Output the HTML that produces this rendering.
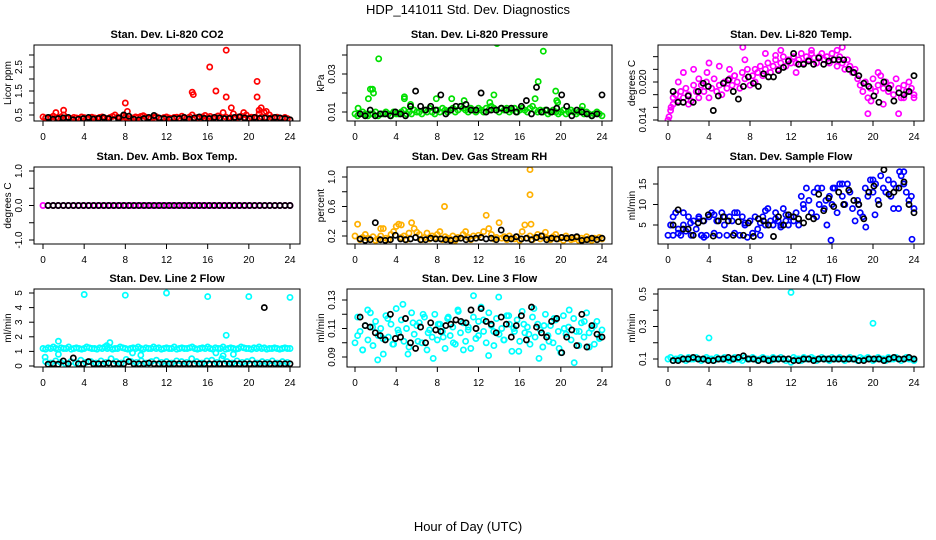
<!DOCTYPE html>
<html><head><meta charset="utf-8"><style>
body{margin:0;background:#fff;}
svg{display:block;font-family:"Liberation Sans",sans-serif;}
</style></head><body>
<svg id="chart" width="936" height="540" viewBox="0 0 936 540" xmlns="http://www.w3.org/2000/svg">
<rect width="936" height="540" fill="#fff"/>
<text x="468" y="14" text-anchor="middle" font-size="13">HDP_141011  Std. Dev. Diagnostics</text>
<text x="468" y="531" text-anchor="middle" font-size="13">Hour of Day (UTC)</text>
</svg>
<script>
// ---- data ----
const xTicks = [0,4,8,12,16,20,24];
const titles = ["Stan. Dev. Li-820 CO2","Stan. Dev. Li-820 Pressure","Stan. Dev. Li-820 Temp.","Stan. Dev. Amb. Box Temp.","Stan. Dev. Gas Stream RH","Stan. Dev. Sample Flow","Stan. Dev. Line 2 Flow","Stan. Dev. Line 3 Flow","Stan. Dev. Line 4 (LT) Flow"];
const yTitles = ["Licor ppm","kPa","degrees C","degrees C","percent","ml/min","ml/min","ml/min","ml/min"];
const colors = ["#ff0000","#00e000","#ff00ff","#ff00ff","#ffb000","#0000ff","#00ffff","#00ffff","#00ffff"];

const co2Base = [0.42,0.38,0.35,0.40,0.45,0.38,0.36,0.42,0.50,0.40,0.37,0.35,0.40,0.38,0.36,0.42,0.39,0.35,0.37,0.41,0.38,0.36,0.40,0.42,0.37,0.35,0.39,0.44,0.50,0.41,0.38,0.45,0.40,0.36,0.35,0.38,0.42,0.40,0.44,0.47,0.41,0.38,0.36,0.40,0.43,0.37,0.35,0.39,0.42,0.38,0.36,0.40,0.41,0.37,0.45,0.39,0.35,0.42,0.50,0.38,0.40,0.36,0.42,0.48,0.39,0.44,0.37,0.41,0.46,0.38,0.60,0.42,0.36,0.40,0.55,0.38,0.42,0.45,0.39,0.50,0.37,0.41,0.40,0.38,0.55,0.42,0.60,0.39,0.50,0.40,0.37,0.41,0.38,0.36,0.40,0.35,0.30];
const co2ExtraT = [1.25,2.0,8.0,8.2,14.5,14.6,16.2,16.8,17.8,17.8,18.3,19.5,20.8,20.8,21.0,21.2,21.7];
const co2ExtraV = [0.6,0.7,1.0,0.65,1.45,1.35,2.5,1.5,3.2,1.25,0.8,0.6,1.9,1.25,0.7,0.8,0.65];
const co2Black = [0.40,0.32,0.35,0.38,0.40,0.30,0.32,0.35,0.40,0.33,0.36,0.40,0.35,0.30,0.38,0.50,0.45,0.32,0.30,0.35,0.40,0.48,0.38,0.35,0.32,0.36,0.35,0.40,0.33,0.38,0.42,0.36,0.35,0.40,0.38,0.35,0.36,0.40,0.42,0.38,0.35,0.40,0.36,0.38,0.35,0.40,0.38,0.35,0.30];

const presBase = [.009,.008,.009,.010,.009,.008,.009,.009,.010,.008,.009,.009,.010,.009,.008,.010,.009,.009,.010,.011,.009,.010,.009,.011,.010,.010,.009,.011,.010,.012,.010,.009,.011,.010,.012,.011,.010,.011,.012,.010,.011,.013,.012,.011,.010,.012,.011,.010,.012,.011,.010,.012,.011,.013,.012,.011,.010,.012,.011,.012,.010,.011,.012,.010,.011,.012,.011,.010,.012,.013,.011,.010,.011,.010,.011,.009,.010,.011,.010,.009,.010,.011,.009,.010,.011,.010,.009,.010,.011,.009,.010,.009,.008,.009,.010,.009,.008];
const presExtraT = [0.3,1.3,1.5,1.7,1.8,2.3,4.8,4.8,5.4,7.9,9.4,10.6,13.1,13.5,13.8,17.5,17.8,18.3,19.5,19.6,19.7,22.1];
const presExtraV = [0.012,0.017,0.022,0.022,0.020,0.038,0.018,0.017,0.014,0.017,0.017,0.016,0.015,0.019,0.046,0.017,0.026,0.042,0.021,0.016,0.015,0.013];
const presBlack = [.009,.008,.011,.008,.009,.009,.008,.010,.009,.008,.013,.021,.013,.011,.013,.011,.019,.009,.011,.013,.013,.014,.011,.011,.020,.010,.011,.011,.012,.011,.012,.010,.013,.016,.009,.023,.010,.011,.010,.012,.019,.013,.008,.011,.010,.009,.008,.009,.019];

const tempBase = [.0140,.0155,.0165,.0180,.0170,.0185,.0175,.0190,.0180,.0170,.0195,.0185,.0175,.0195,.0185,.0200,.0175,.0190,.0205,.0185,.0195,.0180,.0200,.0190,.0205,.0195,.0210,.0200,.0190,.0215,.0205,.0220,.0195,.0210,.0200,.0215,.0225,.0210,.0220,.0230,.0215,.0225,.0235,.0220,.0230,.0240,.0225,.0235,.0230,.0240,.0230,.0235,.0245,.0230,.0240,.0235,.0245,.0238,.0230,.0240,.0245,.0235,.0240,.0230,.0245,.0235,.0225,.0240,.0230,.0220,.0235,.0225,.0215,.0220,.0205,.0195,.0185,.0200,.0175,.0190,.0205,.0185,.0195,.0210,.0190,.0200,.0185,.0195,.0180,.0205,.0190,.0175,.0195,.0185,.0200,.0190,.0180];
const tempExtraT = [0.5,1,1.5,2,2.5,3.8,4,5,6,7.3,7.5,9.5,10.5,11,12.5,14,16.5,17,19.5,19.8,20.5,21,22.5,23,24,0.1,0.3,3,6.5,8.5];
const tempExtraV = [.0175,.0200,.0215,.0165,.0220,.0215,.0230,.0225,.0220,.0255,.0235,.0245,.0242,.0250,.0215,.0250,.0250,.0255,.0150,.0170,.0215,.0165,.0150,.0175,.0175,.0145,.0160,.0205,.0210,.0220];
const tempBlack = [.0185,.0168,.0168,.0178,.0168,.0185,.0198,.0193,.0155,.0178,.0198,.0203,.0185,.0173,.0193,.0208,.0198,.0193,.0213,.0208,.0208,.0218,.0223,.0233,.0245,.0228,.0228,.0233,.0228,.0238,.0228,.0233,.0235,.0235,.0235,.0220,.0215,.0210,.0198,.0193,.0178,.0168,.0200,.0190,.0170,.0183,.0180,.0185,.0210];
const tempBlackExtraT = [7.8];
const tempBlackExtraV = [.0130];

const boxBase = [0,0,0,0,0,0,0,0,0,0,0,0,0,0,0,0,0,0,0,0,0,0,0,0,0,0,0,0,0,0,0,0,0,0,0,0,0,0,0,0,0,0,0,0,0,0,0,0,0];
const boxBlack = [0,0,0,0,0,0,0,0,0,0,0,0,0,0,0,0,0,0,0,0,0,0,0,0,0,0,0,0,0,0,0,0,0,0,0,0,0,0,0,0,0,0,0,0,0,0,0,0,0];

const rhBase = [.20,.36,.15,.18,.22,.17,.15,.19,.14,.16,.20,.30,.17,.15,.22,.26,.33,.36,.18,.20,.15,.24,.38,.30,.25,.22,.15,.18,.24,.16,.20,.18,.22,.26,.15,.19,.17,.16,.20,.14,.18,.17,.22,.26,.18,.15,.20,.17,.21,.18,.26,.48,.30,.22,.16,.18,.38,.17,.19,.15,.20,.17,.16,.19,.14,.26,.35,.17,.20,.15,.18,.22,.16,.20,.25,.17,.15,.19,.22,.16,.18,.14,.20,.17,.15,.16,.18,.14,.17,.15,.19,.16,.14,.17,.15,.18,.16];
const rhExtraT = [8.7,17,17,2.5,4.5,17.1];
const rhExtraV = [0.6,1.1,0.76,0.30,0.35,0.36];
const rhBlack = [.16,.14,.15,.38,.15,.14,.15,.21,.16,.15,.16,.18,.15,.15,.17,.16,.16,.15,.14,.16,.17,.15,.16,.17,.18,.16,.17,.15,.28,.17,.16,.19,.16,.17,.15,.18,.20,.15,.17,.16,.18,.17,.18,.19,.14,.15,.17,.15,.17];

const flowBase = [2.5,5,2.5,8,4,2.5,8,3.5,7,2.5,6,4,7,2.5,6,2.5,7,8,3,6,2.5,8,5,2.5,7,6,3,8,2.5,7,5,2,6,3,7,4,2.5,7,5,9,6,5,8,6,4.5,9,6,5,7,6,8,5,12,9,14,11,8,13,7,10,14,9,5,12,10,14,8,15,12,10,15,13,9,6,11,8,7,14,12,16,13,15,11,17,14,13,16,12,15,14,9,17,15,13,11,12,9];
const flowExtraT = [0.5,1,1.5,3,3.5,4.5,5.5,6.5,7.5,9.5,10.5,11.5,13.2,14.6,15.4,16.1,17,18.6,19.3,20,20.2,22,22.6,23,23.8,15.9,2.2,3.3,9,11];
const flowExtraV = [7,3,5,6.5,2,7.5,7,8,5.5,8.5,6.5,7.5,10,14,11,14,15,10,4.5,16,7.5,9,18,18,1.5,1.3,5.5,2.5,5.5,5];
const flowBlack = [5,8.7,4,4,2.5,5.5,6,7.5,2.3,6,7,6,2.5,5.8,2.5,5.5,2.2,6.5,6,5,2.2,7,5,7.5,7,6.5,5.5,7,6.5,12.5,8.5,11.5,9.5,13,10,13.5,11,10,6.5,13,14.5,10,18.5,12.5,13,14,15.5,10,8];

const l2Base = [1.2,1.15,1.25,1.2,1.3,1.2,1.15,1.25,1.2,1.2,1.3,1.15,1.2,1.25,1.2,1.15,1.2,1.3,1.25,1.2,1.2,1.15,1.25,1.2,1.3,1.2,1.25,1.15,1.2,1.2,1.3,1.25,1.2,1.15,1.2,1.25,1.2,1.3,1.2,1.15,1.25,1.2,1.2,1.3,1.2,1.25,1.15,1.2,1.25,1.2,1.2,1.3,1.15,1.2,1.25,1.2,1.2,1.25,1.3,1.2,1.15,1.2,1.25,1.2,1.3,1.2,1.15,1.25,1.2,1.2,1.3,1.15,1.2,1.25,1.2,1.15,1.2,1.3,1.25,1.2,1.2,1.15,1.25,1.2,1.3,1.2,1.25,1.15,1.2,1.2,1.25,1.2,1.15,1.2,1.25,1.2,1.2];
const l2Low = [0.3,0.2,0.35,0.25,0.15,0.3,0.2,0.4,0.25,0.3,0.2,0.35,0.25,0.5,0.3,0.2,0.45,0.3,0.25,0.35,0.2,0.3,0.4,0.25,0.3,0.2,0.35,0.3,0.25,0.5,0.3,0.2,0.35,0.4,0.25,0.5,0.3,0.2,0.35,0.25,0.3,0.4,0.2,0.3,0.25,0.35,0.2,0.3,0.25];
const l2ExtraT = [4,8,12,16,20,24,17.8,1.5,6.5,0.2,1.5,8.7,9.5,17.5,18.5,6.2,16.8];
const l2ExtraV = [4.9,4.85,5.0,4.75,4.75,4.7,2.1,1.7,1.6,0.6,0.8,0.9,0.75,0.7,0.8,1.4,0.9];
const l2Black = [0.12,0.15,0.12,0.35,0.15,0.55,0.15,0.15,0.3,0.15,0.15,0.15,0.2,0.15,0.15,0.15,0.3,0.15,0.15,0.15,0.2,0.15,0.15,0.15,0.15,0.15,0.15,0.15,0.15,0.15,0.15,0.15,0.15,0.15,0.15,0.15,0.15,0.15,0.15,0.15,0.15,0.15,0.15,0.15,0.15,0.15,0.15,0.15,0.15];
const l2BlackExtraT = [21.5];
const l2BlackExtraV = [4.0];

const l3Base = [.100,.118,.108,.095,.112,.102,.121,.098,.115,.105,.110,.092,.119,.104,.113,.099,.124,.107,.116,.101,.110,.097,.121,.106,.112,.114,.100,.118,.095,.109,.104,.120,.102,.113,.108,.096,.117,.105,.111,.099,.123,.107,.114,.101,.109,.096,.118,.103,.115,.125,.108,.100,.121,.112,.098,.117,.106,.110,.102,.119,.113,.094,.108,.116,.101,.122,.107,.111,.099,.118,.104,.113,.109,.097,.120,.105,.112,.100,.116,.108,.093,.119,.106,.111,.102,.117,.108,.098,.114,.104,.121,.107,.110,.099,.115,.103,.109];
const l3Extra = [.105,.095,.123,.111,.088,.103,.117,.099,.109,.127,.092,.114,.101,.120,.107,.089,.113,.104,.118,.100,.122,.095,.111,.133,.105,.116,.091,.108,.132,.102,.119,.110,.094,.113,.106,.124,.089,.112,.101,.117,.096,.110,.123,.086,.108,.115,.097,.112,.104];
const l3Black = [.118,.112,.111,.107,.105,.102,.120,.103,.104,.117,.100,.096,.111,.100,.114,.109,.108,.112,.113,.116,.115,.114,.123,.110,.124,.115,.113,.107,.118,.113,.104,.112,.119,.102,.125,.111,.107,.104,.115,.117,.093,.104,.109,.098,.120,.097,.112,.106,.104];

const l4Base = [.10,.11,.09,.10,.10,.11,.10,.09,.11,.10,.10,.11,.10,.09,.10,.11,.10,.10,.09,.11,.10,.10,.11,.10,.09,.10,.11,.10,.10,.09,.11,.10,.10,.11,.10,.09,.10,.11,.10,.10,.09,.11,.10,.10,.11,.10,.09,.10,.08,.11,.10,.10,.09,.11,.10,.10,.11,.10,.09,.10,.11,.10,.10,.09,.11,.10,.10,.11,.10,.09,.10,.11,.10,.10,.09,.11,.10,.10,.11,.10,.09,.10,.11,.10,.10,.09,.11,.10,.10,.11,.10,.09,.10,.11,.10,.10,.09];
const l4ExtraT = [4,12,20];
const l4ExtraV = [0.23,0.51,0.32];
const l4Black = [.09,.09,.10,.10,.11,.10,.10,.09,.09,.10,.10,.11,.10,.11,.12,.10,.10,.09,.10,.09,.10,.10,.10,.10,.09,.09,.10,.10,.09,.10,.10,.10,.10,.10,.10,.10,.10,.09,.09,.10,.10,.10,.09,.10,.11,.10,.10,.11,.10];

const yTicks = [[0.5,1,1.5,2,2.5,3],[0.01,0.02,0.03,0.04],[0.014,0.016,0.018,0.020,0.022,0.024],[-1,-0.5,0,0.5,1],[0.2,0.4,0.6,0.8,1.0],[5,10,15],[0,1,2,3,4,5],[0.09,0.10,0.11,0.12,0.13],[0.1,0.2,0.3,0.4,0.5]];
const yLabels = [["0.5","","1.5","","2.5",""],["0.01","","0.03",""],["0.014","","","0.020","",""],["-1.0","","0.0","","1.0"],["0.2","","0.6","","1.0"],["5","10","15"],["0","1","2","3","4","5"],["0.09","","0.11","","0.13"],["0.1","","0.3","","0.5"]];

// ---- layout (not data) ----
const colBox = [[34,300],[347,612],[658,924]];
const colX = [[43,290],[355,602],[668,914]];
const rowBox = [[45,121],[167,244],[289,367]];
const yCal = [[0.5,115,2.5,67],[0.01,112,0.03,74],[0.014,120,0.020,82],[-1,240,1,171],[0.2,236,1.0,177],[5,225,15,184],[0,366,5,293],[0.09,357,0.13,300],[0.1,359,0.5,294]];

const series = [
 {base:co2Base, ex:[co2ExtraT,co2ExtraV], black:co2Black},
 {base:presBase, ex:[presExtraT,presExtraV], black:presBlack},
 {base:tempBase, ex:[tempExtraT,tempExtraV], black:tempBlack, bex:[tempBlackExtraT,tempBlackExtraV]},
 {base:boxBase, black:boxBlack},
 {base:rhBase, ex:[rhExtraT,rhExtraV], black:rhBlack},
 {base:flowBase, ex:[flowExtraT,flowExtraV], black:flowBlack},
 {base:l2Base, base2:l2Low, ex:[l2ExtraT,l2ExtraV], black:l2Black, bex:[l2BlackExtraT,l2BlackExtraV]},
 {base:l3Base, base2:l3Extra, black:l3Black},
 {base:l4Base, ex:[l4ExtraT,l4ExtraV], black:l4Black}
];

const svg = document.getElementById('chart');
const NS = 'http://www.w3.org/2000/svg';
function mk(tag, attrs, parent){
  const e = document.createElementNS(NS, tag);
  for (const k in attrs) e.setAttribute(k, attrs[k]);
  (parent||svg).appendChild(e);
  return e;
}

for (let p=0;p<9;p++){
  const c = p%3, r = Math.floor(p/3);
  const [bl,br] = colBox[c], [bt,bb] = rowBox[r];
  const [x0,x24] = colX[c];
  const cal = yCal[p];
  const xs = t => x0 + (x24-x0)*t/24;
  const ys = v => cal[1] + (v-cal[0])*(cal[3]-cal[1])/(cal[2]-cal[0]);
  const g = mk('g',{});
  
  

  const clipId = 'clip'+p;
  const cp = mk('clipPath',{id:clipId}, g);
  mk('rect',{x:bl,y:bt,width:br-bl,height:bb-bt}, cp);
  const pts = mk('g',{'clip-path':'url(#'+clipId+')',fill:'none','stroke-width':1.7}, g);
  
  

  const S = series[p];
  function dot(t,v,col,name){
    const el = mk('circle',{cx:xs(t).toFixed(1),cy:ys(v).toFixed(1),r:2.6,stroke:col}, pts);
    
    
  }
  const col = colors[p];
  S.base.forEach((v,i)=>dot(24*i/(S.base.length-1), v, col, 'point'));
  if (S.base2) S.base2.forEach((v,i)=>dot(0.25+23.5*i/(S.base2.length-1), v, col, 'point'));
  if (S.ex) S.ex[0].forEach((t,i)=>dot(t, S.ex[1][i], col, 'outlier-point'));
  S.black.forEach((v,i)=>dot(0.5+23.5*i/(S.black.length-1), v, '#000', 'black-point'));
  if (S.bex) S.bex[0].forEach((t,i)=>dot(t, S.bex[1][i], '#000', 'black-point'));

  const box = mk('rect',{x:bl,y:bt,width:br-bl,height:bb-bt,fill:'none',stroke:'#000','stroke-width':1}, g);
  
  

  const ti = mk('text',{x:(bl+br)/2,y:bt-7,'text-anchor':'middle','font-size':11,'font-weight':'bold'}, g);
  ti.textContent = titles[p];
  
  

  // x axis
  mk('line',{x1:x0,x2:x24,y1:bb,y2:bb,stroke:'#000'}, g);
  xTicks.forEach(t=>{
    mk('line',{x1:xs(t),x2:xs(t),y1:bb,y2:bb+5,stroke:'#000'}, g);
    const tl = mk('text',{x:xs(t),y:bb+19,'text-anchor':'middle','font-size':10}, g);
    tl.textContent = t;
    
    
  });
  // y axis
  const yt = yTicks[p];
  mk('line',{x1:bl,x2:bl,y1:ys(yt[0]),y2:ys(yt[yt.length-1]),stroke:'#000'}, g);
  yt.forEach((v,i)=>{
    const y = ys(v);
    mk('line',{x1:bl-5,x2:bl,y1:y,y2:y,stroke:'#000'}, g);
    const lab = yLabels[p][i];
    if (lab){
      const tl = mk('text',{x:bl-12,y:y,'text-anchor':'middle','font-size':10,transform:'rotate(-90 '+(bl-12)+' '+y+')'}, g);
      tl.textContent = lab;
      
      
    }
  });
  const yc = (bt+bb)/2, yx = bl-23;
  const yl = mk('text',{x:yx,y:yc,'text-anchor':'middle','font-size':10,transform:'rotate(-90 '+yx+' '+yc+')'}, g);
  yl.textContent = yTitles[p];
  
  
}
</script>
</body></html>
